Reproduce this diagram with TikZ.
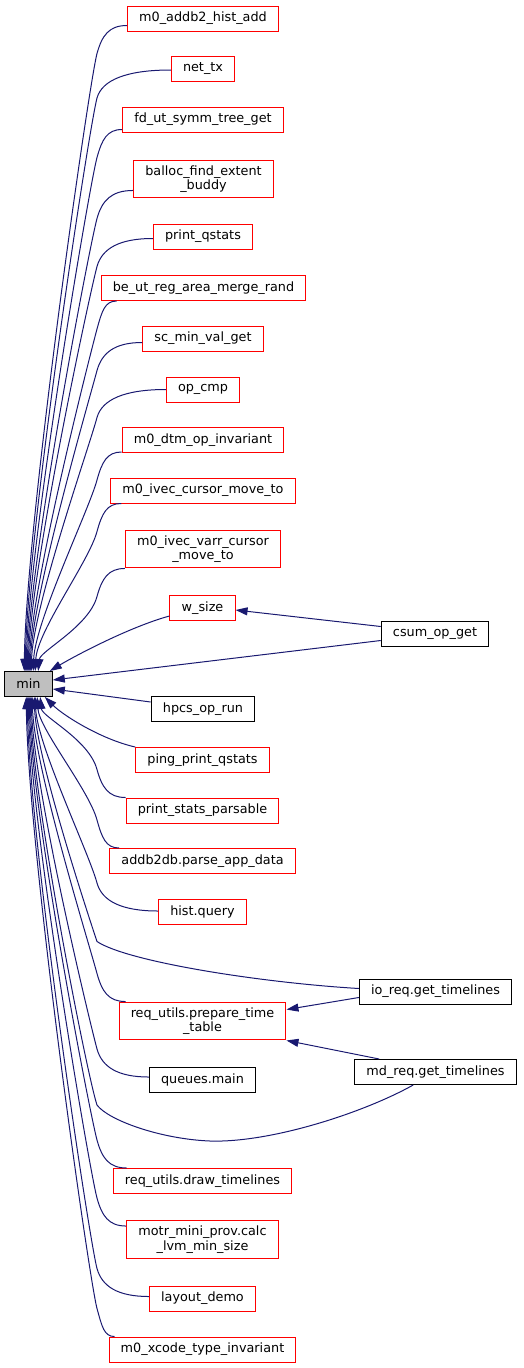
\documentclass[tikz,border=0pt]{standalone}
\usepackage{fontspec}
\setmainfont{DejaVu Sans}
\usetikzlibrary{arrows.meta,positioning,calc}
\definecolor{navy}{HTML}{191970}
\definecolor{boxred}{HTML}{FF0000}
\definecolor{mingray}{HTML}{BFBFBF}

\begin{document}
\begin{tikzpicture}[x=0.75pt,y=-0.75pt,
    fn/.style={draw=boxred, line width=0.75pt, fill=white, inner xsep=8.8pt, inner ysep=4pt,
      minimum height=18.75pt, align=center, font=\fontsize{9.6}{10.9}\selectfont},
    fnb/.style={fn, draw=black},
    calls/.style={draw=navy, line width=0.75pt, -{Triangle[length=9pt,width=6pt]}}]
  \useasboundingbox (0,0) rectangle (524,1368);
  \coordinate (col) at (97,0);

  % the called function
  \node[fnb, fill=mingray] (min) at (28.5,684) {min};

  % callers above
  \node[fn] (addb2) at (203,18.5) {m0\_addb2\_hist\_add};
  \node[fn] (nettx) at (203,69) {net\_tx};
  \node[fn] (fdut) at (203,119.5) {fd\_ut\_symm\_tree\_get};
  \node[fn] (balloc) at (203.5,179) {balloc\_find\_extent\\\_buddy};
  \node[fn] (printq) at (203,236.5) {print\_qstats};
  \node[fn] (beut) at (203.5,288) {be\_ut\_reg\_area\_merge\_rand};
  \node[fn] (scmin) at (203,338.5) {sc\_min\_val\_get};
  \node[fn] (opcmp) at (203,389.5) {op\_cmp};
  \node[fn] (m0dtm) at (203,440) {m0\_dtm\_op\_invariant};
  \node[fn] (ivec) at (203,490.5) {m0\_ivec\_cursor\_move\_to};
  \node[fn] (varr) at (203,549) {m0\_ivec\_varr\_cursor\\\_move\_to};
  \node[fn] (wsize) at (202.5,608) {w\_size};
  \node[fnb] (csum) at (435,633.5) {csum\_op\_get};

  % callers below
  \node[fnb] (hpcs) at (203,709) {hpcs\_op\_run};
  \node[fn] (pingq) at (202.5,760) {ping\_print\_qstats};
  \node[fn] (pstats) at (202.5,810.5) {print\_stats\_parsable};
  \node[fn] (addb2db) at (202.5,861) {addb2db.parse\_app\_data};
  \node[fn] (histq) at (202.5,912) {hist.query};
  \node[fnb] (ioreq) at (435.5,991.5) {io\_req.get\_timelines};
  \node[fn] (prep) at (202.5,1021) {req\_utils.prepare\_time\\\_table};
  \node[fnb] (mdreq) at (435.5,1072) {md\_req.get\_timelines};
  \node[fnb] (queues) at (202.5,1080) {queues.main};
  \node[fn] (drawtl) at (202.5,1181) {req\_utils.draw\_timelines};
  \node[fn] (motr) at (202.5,1239.5) {motr\_mini\_prov.calc\\\_lvm\_min\_size};
  \node[fn] (layout) at (202.5,1298.5) {layout\_demo};
  \node[fn] (xcode) at (202.5,1349.5) {m0\_xcode\_type\_invariant};

  % edges into the top of min
  \foreach \nd/\sx/\sy/\dx/\k in {addb2/0/6/20/150, nettx/0/12/21/140, fdut/0/3/22/125,
      balloc/0/8/23/110, printq/0/11/24/100, beut/16/0/25/85, scmin/0/9/26/75,
      opcmp/0/13/27/65, m0dtm/0/1/29/50, ivec/11/0/31/40, varr/0/0/34/20} {
    \path ($(\nd.south west)+(\sx,-\sy)$) coordinate (s);
    \draw[calls] (s) .. controls ($(s)!0.6!(s -| col)$) and ($(s -| col)+(5,10)$) .. ($(s -| col)+(0,28)$)
      .. controls +(-8,30) and +(2,-\k) .. ($(min.north west)+(\dx,0)$);
  }

  % edges into the bottom of min
  \foreach \nd/\sx/\sy/\dx/\k in {pstats/0/0/36/20, addb2db/10/0/33/32, histq/0/12/31/48,
      prep/7/0/28/70, queues/0/10/27/90, drawtl/14/0/25/112, motr/0/6/24/125,
      layout/0/11/23/145, xcode/6/0/22/155} {
    \path ($(\nd.north west)+(\sx,\sy)$) coordinate (s);
    \draw[calls] (s) .. controls ($(s)!0.6!(s -| col)$) and ($(s -| col)+(5,-10)$) .. ($(s -| col)+(0,-28)$)
      .. controls +(-8,-30) and +(2,\k) .. ($(min.south west)+(\dx,0)$);
  }

  % w_size and csum_op_get
  \draw[calls] ($(wsize.south west)+(0,-5)$) .. controls +(-40,11) and +(25,-15) .. ($(min.north east)+(-3,0)$);
  \draw[calls] ($(csum.south west)+(0,-6)$) -- ($(min.east)+(0,-4)$);
  \draw[calls] ($(csum.north west)+(0,6)$) -- ($(wsize.east)+(0,2)$);

  % hpcs_op_run and ping_print_qstats
  \draw[calls] ($(hpcs.north west)+(0,6)$) -- ($(min.east)+(0,5)$);
  \draw[calls] (pingq.north west) .. controls +(-35,-8) and +(18,18) .. ($(min.south east)+(-8,0)$);

  % io_req.get_timelines
  \draw[calls] ($(ioreq.west)+(0,-3)$) .. controls +(-100,-6) and +(30,20) .. ($(ioreq.west -| col)+(0,-50)$)
    .. controls +(-10,-30) and +(2,60) .. ($(min.south west)+(30,0)$);
  \draw[calls] ($(ioreq.south west)+(0,-7)$) -- ($(prep.north east)+(0,8)$);

  % md_req.get_timelines
  \draw[calls] ($(mdreq.north west)+(25,0)$) -- (prep.south east);
  \draw[calls] ($(mdreq.south west)+(59,0)$) .. controls +(-50,28) and +(60,2) .. (210,1141)
    .. controls (160,1139) and (108,1120) .. (97,1105)
    .. controls +(-10,-30) and +(2,100) .. ($(min.south west)+(26,0)$);
\end{tikzpicture}
\end{document}
